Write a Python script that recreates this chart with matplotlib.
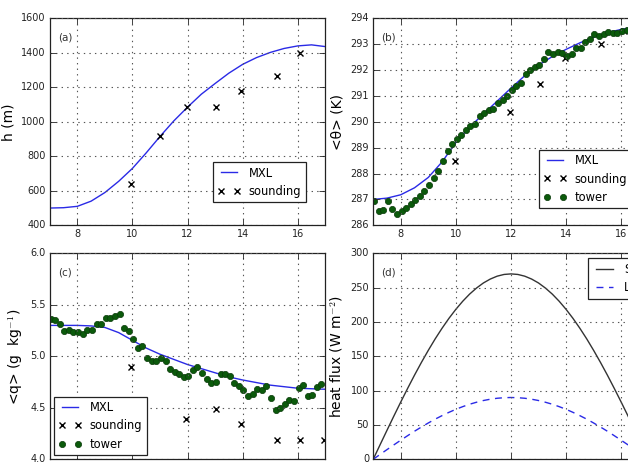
import matplotlib
matplotlib.use("Agg")
import matplotlib.pyplot as plt

plt.style.use("classic")
plt.rcParams["font.family"] = ["DejaVu Sans"]

# ---------------- data ----------------
mxl_time = [7.0, 7.5, 8.0, 8.5, 9.0, 9.5, 10.0, 10.5, 11.0, 11.5, 12.0, 12.5,
            13.0, 13.5, 14.0, 14.5, 15.0, 15.5, 16.0, 16.5, 17.0]
mxl_h = [500, 502, 510, 540, 590, 655, 730, 820, 915, 1005, 1085, 1160,
         1222, 1282, 1333, 1372, 1402, 1425, 1440, 1446, 1436]
mxl_theta = [287.0, 287.05, 287.18, 287.45, 287.85, 288.45, 289.2, 289.8, 290.3,
             290.8, 291.3, 291.78, 292.19, 292.52, 292.8, 293.05, 293.27, 293.45,
             293.57, 293.66, 293.7]
mxl_q = [5.30, 5.30, 5.30, 5.295, 5.28, 5.23, 5.155, 5.08, 5.02, 4.97, 4.92,
         4.88, 4.84, 4.80, 4.77, 4.745, 4.72, 4.705, 4.69, 4.685, 4.68]

snd_time_h = [9.93, 10.99, 11.97, 13.02, 13.93, 15.24, 16.09]
snd_h = [642, 916, 1084, 1086, 1179, 1266, 1397]

snd_time_theta = [9.96, 11.97, 13.06, 13.97, 15.26, 16.09, 17.0]
snd_theta = [288.48, 290.38, 291.48, 292.48, 293.0, 293.5, 293.7]

snd_time_q = [9.93, 11.95, 13.02, 13.93, 15.24, 16.09, 16.97]
snd_q = [4.90, 4.39, 4.49, 4.34, 4.19, 4.19, 4.19]

tower_time = [7.03, 7.20, 7.36, 7.53, 7.70, 7.86, 8.03, 8.20, 8.36, 8.53,
              8.70, 8.86, 9.03, 9.20, 9.36, 9.53, 9.70, 9.86, 10.03, 10.20,
              10.36, 10.53, 10.70, 10.86, 11.03, 11.20, 11.36, 11.53, 11.70, 11.86,
              12.03, 12.20, 12.36, 12.53, 12.70, 12.86, 13.03, 13.20, 13.36, 13.53,
              13.70, 13.86, 14.03, 14.20, 14.36, 14.53, 14.70, 14.86, 15.03, 15.20,
              15.36, 15.53, 15.70, 15.86, 16.03, 16.20, 16.36, 16.53, 16.70, 16.86]
tower_theta = [286.92, 286.55, 286.58, 286.92, 286.64, 286.42, 286.55, 286.68, 286.81, 286.97,
               287.14, 287.33, 287.55, 287.83, 288.10, 288.47, 288.87, 289.14, 289.32, 289.48,
               289.68, 289.84, 289.93, 290.22, 290.35, 290.45, 290.51, 290.73, 290.86, 291.00,
               291.22, 291.37, 291.50, 291.84, 292.02, 292.12, 292.18, 292.42, 292.68, 292.61,
               292.70, 292.66, 292.54, 292.61, 292.87, 292.87, 293.09, 293.19, 293.38, 293.31,
               293.41, 293.47, 293.45, 293.43, 293.52, 293.56, 293.60, 293.62, 293.64, 293.66]
tower_q = [5.366, 5.35, 5.31, 5.25, 5.26, 5.24, 5.236, 5.22, 5.26, 5.26,
           5.31, 5.31, 5.37, 5.37, 5.39, 5.41, 5.275, 5.25, 5.165, 5.085,
           5.10, 4.98, 4.95, 4.95, 4.98, 4.955, 4.88, 4.85, 4.83, 4.80,
           4.81, 4.87, 4.90, 4.84, 4.78, 4.74, 4.75, 4.83, 4.83, 4.81,
           4.74, 4.71, 4.67, 4.61, 4.63, 4.68, 4.67, 4.71, 4.60, 4.48,
           4.50, 4.54, 4.58, 4.57, 4.69, 4.72, 4.61, 4.62, 4.70, 4.73]

flux_time = [7.0, 7.25, 7.5, 7.75, 8.0, 8.25, 8.5, 8.75, 9.0, 9.25, 9.5, 9.75,
             10.0, 10.25, 10.5, 10.75, 11.0, 11.25, 11.5, 11.75, 12.0, 12.25,
             12.5, 12.75, 13.0, 13.25, 13.5, 13.75, 14.0, 14.25, 14.5, 14.75,
             15.0, 15.25, 15.5, 15.75, 16.0, 16.25, 16.5, 16.75, 17.0]
flux_sh = [0, 21.2, 42.2, 63.0, 83.4, 103.3, 122.6, 141.1, 158.7, 175.4, 190.9,
           205.3, 218.4, 230.2, 240.6, 249.4, 256.8, 262.5, 266.7, 269.2, 270.0,
           269.2, 266.7, 262.5, 256.8, 249.4, 240.6, 230.2, 218.4, 205.3, 190.9,
           175.4, 158.7, 141.1, 122.6, 103.3, 83.4, 63.0, 42.2, 21.2, 0]
flux_le = [0, 7.1, 14.1, 21.0, 27.8, 34.4, 40.9, 47.0, 52.9, 58.5, 63.6,
           68.4, 72.8, 76.7, 80.2, 83.1, 85.6, 87.5, 88.9, 89.7, 90.0,
           89.7, 88.9, 87.5, 85.6, 83.1, 80.2, 76.7, 72.8, 68.4, 63.6,
           58.5, 52.9, 47.0, 40.9, 34.4, 27.8, 21.0, 14.1, 7.1, 0]

xticks = [8, 10, 12, 14, 16]

# ---------------- styling ----------------
MXL_C = "#2a2ae6"
TOWER_C = "#0b5a0b"
TICK_FS = 7
LAB_FS = 10
LEG_FS = 8.3

fig = plt.figure(figsize=(6.28, 4.62), dpi=100)
fig.patch.set_facecolor("white")

W = 275.5 / 628
H = 207 / 462
ax_a = fig.add_axes([49.8 / 628, 1 - 225.3 / 462, W, H])
ax_b = fig.add_axes([373.2 / 628, 1 - 225.3 / 462, W, H])
ax_c = fig.add_axes([49.8 / 628, 1 - 459.3 / 462, W, 206 / 462])
ax_d = fig.add_axes([373.2 / 628, 1 - 459.3 / 462, W, 206 / 462])


def style(ax, label, ylim, yticks, show_x=True):
    ax.set_xlim(7, 17)
    ax.set_ylim(*ylim)
    ax.set_xticks(xticks)
    ax.set_yticks(yticks)
    ax.tick_params(labelsize=TICK_FS, direction="in", length=4, width=0.6,
                   colors="#222222", pad=3)
    ax.grid(True, linestyle=":", color="#555555", linewidth=0.8)
    for s in ax.spines.values():
        s.set_linewidth(0.9)
        s.set_color("#222222")
    ax.text(0.03, 0.93, label, transform=ax.transAxes, fontsize=7.5,
            color="#333333", va="top", ha="left")
    if not show_x:
        ax.tick_params(axis="x", labelbottom=False)


def legend(ax, **kw):
    leg = ax.legend(fontsize=LEG_FS, numpoints=2, fancybox=False,
                    borderaxespad=0, handlelength=2.0, labelspacing=0.45,
                    borderpad=0.4, handletextpad=0.7, **kw)
    leg.get_frame().set_linewidth(0.9)
    leg.get_frame().set_edgecolor("#222222")
    return leg


# (a)
ax_a.plot(mxl_time, mxl_h, color=MXL_C, lw=1.0, label="MXL")
ax_a.plot(snd_time_h, snd_h, "x", color="black", ms=4, mew=1.0, label="sounding")
style(ax_a, "(a)", (400, 1600), [400, 600, 800, 1000, 1200, 1400, 1600])
ax_a.set_ylabel("h (m)", fontsize=LAB_FS, labelpad=4)
legend(ax_a, loc="lower right", bbox_to_anchor=(0.93, 0.111))

# (b)
ax_b.plot(mxl_time, mxl_theta, color=MXL_C, lw=1.0, label="MXL")
ax_b.plot(snd_time_theta, snd_theta, "x", color="black", ms=4, mew=1.0, label="sounding")
ax_b.plot(tower_time, tower_theta, "o", color=TOWER_C, mec="#0a3a0a", ms=4.5, label="tower")
style(ax_b, "(b)", (286, 294), [286, 287, 288, 289, 290, 291, 292, 293, 294])
ax_b.set_ylabel("<θ> (K)", fontsize=LAB_FS, labelpad=4)
legend(ax_b, loc="lower right", bbox_to_anchor=(0.938, 0.082))

# (c)
ax_c.plot(mxl_time, mxl_q, color=MXL_C, lw=1.0, label="MXL")
ax_c.plot(snd_time_q, snd_q, "x", color="black", ms=4, mew=1.0, label="sounding")
ax_c.plot(tower_time, tower_q, "o", color=TOWER_C, mec="#0a3a0a", ms=4.5, label="tower")
style(ax_c, "(c)", (4.0, 6.0), [4.0, 4.5, 5.0, 5.5, 6.0], show_x=False)
ax_c.set_yticklabels(["4.0", "4.5", "5.0", "5.5", "6.0"])
ax_c.set_ylabel("<q> (g  kg$^{-1}$)", fontsize=LAB_FS, labelpad=4)
legend(ax_c, loc="lower left", bbox_to_anchor=(0.015, 0.02))

# (d)
ax_d.plot(flux_time, flux_sh, color="#333333", lw=1.0, label="SH")
ax_d.plot(flux_time, flux_le, color=MXL_C, lw=1.0, dashes=(5, 4), label="LE")
style(ax_d, "(d)", (0, 300), [0, 50, 100, 150, 200, 250, 300], show_x=False)
ax_d.set_ylabel("heat flux (W m$^{-2}$)", fontsize=LAB_FS, labelpad=4)
legend(ax_d, loc="upper right", bbox_to_anchor=(0.985, 0.975))

fig.savefig("out.png", dpi=100, facecolor="white")
